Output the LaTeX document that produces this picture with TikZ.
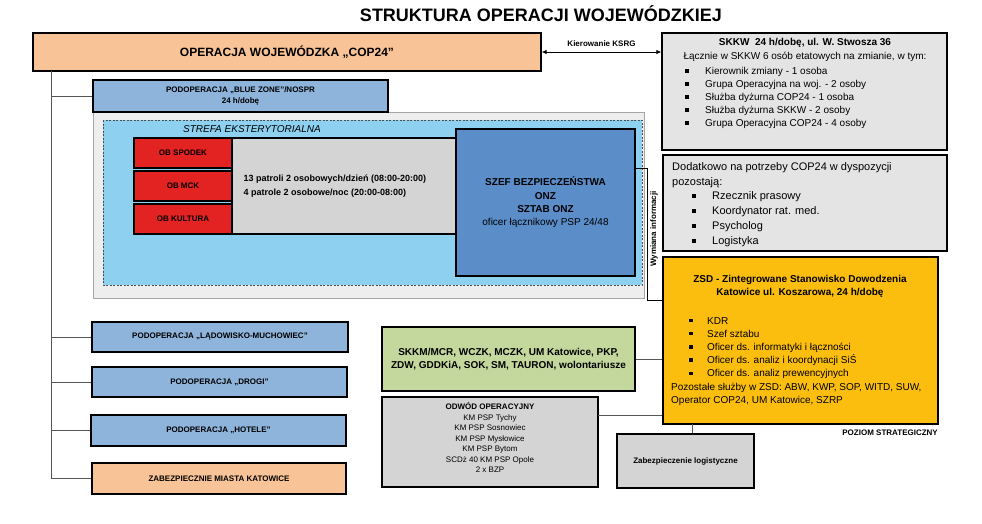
\documentclass[tikz,border=0pt]{standalone}
\usepackage{fontspec}
\setmainfont{Liberation Sans}
\usetikzlibrary{arrows.meta,calc,positioning}

\definecolor{copOrange}{HTML}{F8C396}
\definecolor{zoneBlue}{HTML}{8EB4DC}
\definecolor{boxGray}{HTML}{E4E4E4}
\definecolor{midGray}{HTML}{D4D4D4}
\definecolor{strefaGray}{HTML}{EEEEEE}
\definecolor{strefaCyan}{HTML}{8DD0EF}
\definecolor{obRed}{HTML}{E32222}
\definecolor{szefBlue}{HTML}{5B8DC9}
\definecolor{zsdYellow}{HTML}{FBBE0E}
\definecolor{grGreen}{HTML}{C4D89D}
\definecolor{connGray}{HTML}{555555}

\tikzset{
  box/.style={draw=black, line width=1.3pt, inner sep=0pt, align=center},
  size/.style 2 args={minimum width=#1pt, minimum height=#2pt},
  conn/.style={draw=connGray, line width=0.8pt},
  bullet/.style={fill=black, inner sep=0pt, minimum size=3.3pt},
  listtxt/.style={anchor=west, inner sep=0pt, text height=7pt, text depth=0pt},
  fs/.style={font=\fontsize{#1}{#1}\selectfont},
  fb/.style={font=\fontsize{#1}{#1}\selectfont\bfseries},
}

\begin{document}
\begin{tikzpicture}[x=1pt,y=-1pt]
    \useasboundingbox (0,0) rectangle (982,523);
    %% Title
    \node[fb=18] (title) at (541,14) {STRUKTURA OPERACJI WOJEWÓDZKIEJ};

    %% Strefa eksterytorialna
    \draw[draw=black!35, fill=strefaGray, line width=0.6pt] (93,112) rectangle (644,298);
    \draw[draw=black!70, fill=strefaCyan, line width=0.8pt, dash pattern=on 2pt off 1.5pt] (103,120) rectangle (642,285);
    \node[font=\fontsize{10}{11}\selectfont\itshape] (strefa) at (252,129) {STREFA EKSTERYTORIALNA};

    \node[box, fill=midGray, size={224}{96}] (patrol) at (344,186) {};
    \node[anchor=west, align=left, font=\fontsize{9}{14}\selectfont\bfseries] (patrol-txt) at (240,186)
      {13 patroli 2 osobowych/dzień (08:00-20:00)\\4 patrole 2 osobowe/noc (20:00-08:00)};
    \node[box, fill=obRed, size={98}{30}, fb=8] (spodek) at (183,153) {OB SPODEK};
    \node[box, fill=obRed, size={98}{30}, fb=8] (mck) at (183,186) {OB MCK};
    \node[box, fill=obRed, size={98}{30}, fb=8] (kultura) at (183,219) {OB KULTURA};
    \node[box, fill=szefBlue, size={179}{147}, font=\fontsize{10}{13.3}\selectfont\bfseries] (szef) at (545.5,202.5)
      {SZEF BEZPIECZEŃSTWA\\ONZ\\SZTAB ONZ\\{\mdseries oficer łącznikowy PSP 24/48}};

    %% Operacja i podoperacje
    \node[box, fill=copOrange, size={508}{38}, fb=12] (cop) at (287,52) {OPERACJA WOJEWÓDZKA „COP24”};
    \node[box, fill=zoneBlue, size={295}{32}, font=\fontsize{8}{11}\selectfont\bfseries] (bz) at (240.5,96) {PODOPERACJA „BLUE ZONE”/NOSPR\\24 h/dobę};
    \node[box, fill=zoneBlue, size={256}{30}, fb=8] (lad) at (220,337) {PODOPERACJA „LĄDOWISKO-MUCHOWIEC”};
    \node[box, fill=zoneBlue, size={255}{30}, fb=8] (drogi) at (219.5,382) {PODOPERACJA „DROGI”};
    \node[box, fill=zoneBlue, size={255}{31}, fb=8] (hotele) at (218.5,430.5) {PODOPERACJA „HOTELE”};
    \node[box, fill=copOrange, size={254}{31}, fb=8] (zab) at (219,478.5) {ZABEZPIECZNIE MIASTA KATOWICE};

    \coordinate (trunk) at (51,71);
    \draw[conn] (trunk) |- (zab.west);
    \foreach \n in {bz,lad,drogi,hotele}
      \draw[conn] (trunk |- \n.west) -- (\n.west);

    %% SKKW
    \node[box, fill=boxGray, size={285}{117}] (skkw) at (804.5,91.5) {};
    \node[fb=10] (skkw-title) at (805,43) {SKKW\ \ 24 h/dobę, ul. W. Stwosza 36};
    \node[fs=10] (skkw-sub) at (805,57) {Łącznie w SKKW 6 osób etatowych na zmianie, w tym:};
    \foreach \txt [count=\i] in {Kierownik zmiany - 1 osoba, Grupa Operacyjna na woj. - 2 osoby,
        Służba dyżurna COP24 - 1 osoba, Służba dyżurna SKKW - 2 osoby, Grupa Operacyjna COP24 - 4 osoby} {
      \node[bullet] (skkw-b\i) at (687,58+13*\i) {};
      \node[listtxt, fs=10] (skkw-\i) at (705,58+13*\i) {\txt};
    }
    \draw[draw=black, line width=0.9pt, {Latex[length=5pt,width=4.5pt]}-{Latex[length=5pt,width=4.5pt]}]
      (cop.east) -- (cop.east -| skkw.west) node[midway, above=2pt, fb=8] (ksrg) {Kierowanie KSRG};

    %% Dodatkowo
    \node[box, fill=boxGray, size={284}{96}] (dod) at (805,203) {};
    \node[listtxt, fs=11] (dod-a) at (672,167) {Dodatkowo na potrzeby COP24 w dyspozycji};
    \node[listtxt, fs=11] (dod-b) at (672,182) {pozostają:};
    \foreach \txt [count=\i] in {Rzecznik prasowy, Koordynator rat. med., Psycholog, Logistyka} {
      \node[bullet] (dod-b\i) at (694,181+15*\i) {};
      \node[listtxt, fs=11] (dod-\i) at (712,181+15*\i) {\txt};
    }

    %% ZSD
    \node[box, fill=zsdYellow, size={275}{167}] (zsd) at (800.5,340.5) {};
    \node[align=center, font=\fontsize{10}{13}\selectfont\bfseries] (zsd-title) at (800,286.5)
      {ZSD - Zintegrowane Stanowisko Dowodzenia\\Katowice ul. Koszarowa, 24 h/dobę};
    \foreach \txt [count=\i] in {KDR, Szef sztabu, Oficer ds. informatyki i łączności,
        Oficer ds. analiz i koordynacji SiŚ, Oficer ds. analiz prewencyjnych} {
      \node[bullet] (zsd-b\i) at (691,307.3+13.2*\i) {};
      \node[listtxt, fs=10] (zsd-\i) at (707,307.3+13.2*\i) {\txt};
    }
    \node[listtxt, fs=10] (zsd-p1) at (671,387) {Pozostałe służby w ZSD: ABW, KWP, SOP, WITD, SUW,};
    \node[listtxt, fs=10] (zsd-p2) at (671,400) {Operator COP24, UM Katowice, SZRP};
    \node[anchor=east, inner sep=0pt, fb=8] (poziom) at (938,433) {POZIOM STRATEGICZNY};

    \coordinate (wymA) at (647,168);
    \coordinate (wymB) at (647,300);
    \draw[draw=black, line width=0.8pt] (szef.east |- wymA) -- (wymA) -- (wymB) -- (wymB -| zsd.west);
    \node[rotate=90, fb=8] (wym) at (654,229) {Wymiana informacji};

    %% Sluzby wspierajace
    \node[box, fill=grGreen, size={253}{64}, font=\fontsize{10}{13}\selectfont\bfseries] (green) at (508.5,359)
      {SKKM/MCR, WCZK, MCZK, UM Katowice, PKP,\\ZDW, GDDKiA, SOK, SM, TAURON, wolontariusze};
    \node[box, fill=midGray, size={216}{90}] (odwod) at (490,442) {};
    \node[align=center, font=\fontsize{8}{10.5}\selectfont] (odwod-txt) at (490,437.5)
      {\textbf{ODWÓD OPERACYJNY}\\KM PSP Tychy\\KM PSP Sosnowiec\\KM PSP Mysłowice\\KM PSP Bytom\\SCDż 40 KM PSP Opole\\2 x BZP};
    \node[box, fill=midGray, size={137}{54}, fb=8] (logist) at (685.5,461) {Zabezpieczenie logistyczne};

    \coordinate (odw) at (598,415);
    \coordinate (lg) at (692,424);
    \draw[conn] (green.east) -- (green.east -| zsd.west);
    \draw[conn] (odw) -- (odw -| zsd.west);
    \draw[conn] (lg) -- (lg |- logist.north);
\end{tikzpicture}
\end{document}
